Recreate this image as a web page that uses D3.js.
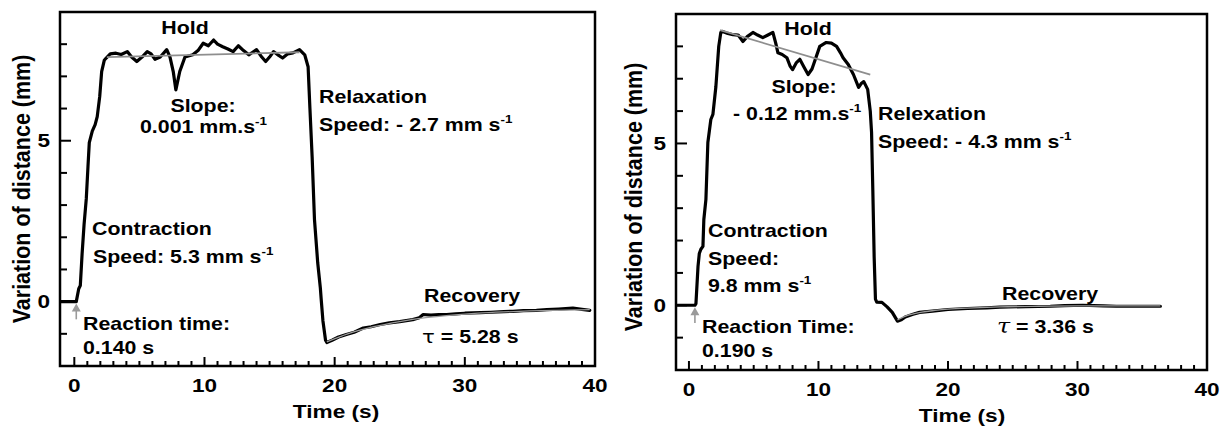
<!DOCTYPE html>
<html>
<head>
<meta charset="utf-8">
<script src="https://cdn.jsdelivr.net/npm/d3@7"></script>
<style>
  html, body { margin: 0; padding: 0; background: #fff; }
  svg { display: block; }
</style>
</head>
<body>
<svg id="chart" width="1227" height="426"></svg>
<script>
// trace of the left subject, [time s, distance mm]
var leftTrace = [[-1.05,0],[0.15,0],[0.34,0.4],[0.46,0.5],[0.6,1.5],[0.75,2.4],[0.92,3.2],[1.05,4.2],
  [1.15,4.94],[1.38,5.3],[1.6,5.5],[1.76,5.75],[1.95,6.37],[2.1,7.15],[2.3,7.5],[2.45,7.57],[2.76,7.7],
  [3.2,7.72],[3.6,7.68],[4.07,7.77],[4.4,7.6],[4.8,7.46],[5.2,7.6],[5.6,7.77],[5.9,7.7],[6.2,7.53],
  [6.6,7.6],[7.1,7.83],[7.35,7.6],[7.6,7.15],[7.8,6.58],[8.1,7.15],[8.5,7.6],[9.1,7.67],[9.5,7.8],
  [9.9,8.03],[10.3,7.95],[10.7,8.13],[11.0,8.0],[11.4,7.92],[11.8,7.85],[12.2,7.77],[12.6,7.95],
  [13.0,7.8],[13.4,7.67],[13.7,7.75],[14.0,7.83],[14.4,7.6],[14.7,7.46],[15.0,7.6],[15.3,7.77],
  [15.7,7.65],[16.0,7.57],[16.4,7.7],[16.8,7.73],[17.3,7.83],[17.7,7.67],[17.96,7.3],[18.1,6.0],
  [18.27,4.5],[18.45,2.55],[18.7,1.2],[18.9,0.43],[18.96,0.1],[19.1,-0.6],[19.3,-1.2],[19.4,-1.27],
  [19.8,-1.2],[20.3,-1.1],[20.9,-1.02],[21.5,-0.95],[22.2,-0.82],[22.8,-0.78],[23.5,-0.71],[24.2,-0.66],
  [25.0,-0.62],[26.0,-0.56],[26.5,-0.5],[26.8,-0.4],[27.4,-0.42],[28.0,-0.4],[28.6,-0.4],[29.3,-0.38],
  [30.0,-0.36],[31.2,-0.34],[32.0,-0.33],[33.0,-0.31],[33.7,-0.3],[34.5,-0.28],[35.5,-0.27],[36.3,-0.25],
  [37.2,-0.23],[38.3,-0.2],[39.0,-0.24],[39.6,-0.27]];
var leftHoldFit = [[2.5,7.6],[17.3,7.75]];
var leftRecoveryFit = [[19.4,-1.25],[21,-1.0],[23,-0.78],[25,-0.62],[27,-0.5],[29,-0.42],[31,-0.36],
  [33,-0.32],[35,-0.29],[37,-0.27],[39.6,-0.25]];

// trace of the right subject
var rightTrace = [[-0.9,0],[0.46,0],[0.54,0.05],[0.7,1.2],[0.8,1.6],[0.92,1.73],[1.08,1.82],[1.15,2.65],
  [1.31,3.27],[1.46,5.03],[1.69,5.74],[1.85,5.9],[2.08,6.76],[2.3,8.0],[2.46,8.43],[2.6,8.46],[3.0,8.4],
  [3.4,8.36],[3.8,8.35],[4.17,8.15],[4.5,8.3],[4.94,8.43],[5.3,8.35],[5.7,8.27],[6.1,8.35],[6.48,8.43],
  [6.7,8.1],[6.87,7.8],[7.2,7.75],[7.56,7.65],[7.8,7.4],[8.0,7.28],[8.3,7.5],[8.56,7.6],[8.9,7.35],
  [9.2,7.13],[9.5,7.3],[9.7,7.53],[10.1,8.0],[10.6,8.12],[11.0,8.1],[11.4,8.0],[11.7,7.8],[11.9,7.65],
  [12.3,7.44],[12.7,7.13],[13.1,6.73],[13.3,6.85],[13.5,6.91],[13.8,6.67],[14.0,6.0],[14.1,5.34],
  [14.2,3.5],[14.3,1.5],[14.4,0.19],[14.5,0.1],[14.9,0.09],[15.3,-0.05],[15.7,-0.22],[16.1,-0.49],
  [16.4,-0.45],[16.7,-0.36],[17.3,-0.28],[17.8,-0.22],[18.8,-0.18],[20,-0.13],[21.5,-0.1],[23,-0.08],
  [24,-0.06],[26,-0.04],[27.9,-0.03],[29,-0.01],[30.4,0.0],[32,-0.02],[33,-0.03],[35,-0.03],[36.4,-0.03]];
var rightHoldFit = [[2.4,8.5],[14.0,7.13]];
var rightRecoveryFit = [[16.1,-0.45],[17,-0.3],[18,-0.21],[19,-0.16],[20,-0.12],[22,-0.08],[24,-0.05],
  [27,-0.03],[30,-0.02],[33,-0.02],[36.4,-0.02]];

// reaction arrows: [time, from, to]
var leftArrow = [0.15, -0.55, -0.06];
var rightArrow = [0.46, -0.55, -0.06];

var xTickLabels = [0, 10, 20, 30, 40];
var yTickLabels = [0, 5];

// annotation texts, each line a list of segments
var leftNotes = [
  [['Hold']], [['Slope:']], [['0.001 mm.s'], ['-1', 'sup']],
  [['Relaxation']], [['Speed: - 2.7 mm s'], ['-1', 'sup']],
  [['Recovery']], [['τ', 'tau'], [' = 5.28 s']],
  [['Contraction']], [['Speed: 5.3 mm s'], ['-1', 'sup']],
  [['Reaction time:']], [['0.140 s']]
];
var rightNotes = [
  [['Hold']], [['Slope:']], [['- 0.12 mm.s'], ['-1', 'sup']],
  [['Relexation']], [['Speed: - 4.3 mm s'], ['-1', 'sup']],
  [['Recovery']], [['τ', 'tauSerif'], [' = 3.36 s']],
  [['Contraction']], [['Speed:']], [['9.8 mm s'], ['-1', 'sup']],
  [['Reaction Time:']], [['0.190 s']]
];

// where the notes sit, px from the frame's top-left corner
var leftNotePos = [[125,22,'middle'],[143,100,'middle'],[80,121],[259,91],[259,119],[364,290],[362,331],
  [32,223],[33,251],[23,318],[23,342]];
var rightNotePos = [[132,21,'middle'],[128,79,'middle'],[57,106],[202,106],[202,134],[326,286],[321,319],
  [32,223],[32,251],[32,278],[26,319],[26,343]];

var SX = 1.22; // the figure is a bit wider than tall fonts
var FONT = '"Liberation Sans", Arial, Helvetica, sans-serif';

var svg = d3.select('#chart');

function addText(g, x, y, segs, size, anchor) {
  var t = g.append('text')
    .attr('transform', 'translate(' + x + ',' + y + ') scale(' + SX + ',1)')
    .attr('text-anchor', anchor || 'start')
    .attr('font-family', FONT)
    .attr('font-weight', 'bold')
    .attr('font-size', size)
    .attr('fill', '#000');
  segs.forEach(function(s) {
    var sp = t.append('tspan').text(s[0]);
    if (s[1] === 'sup') {
      sp.attr('font-size', 11).attr('dy', -8);
    } else if (s[1] === 'tau') {
      sp.attr('font-weight', 'normal').attr('font-family', '"DejaVu Sans", sans-serif');
    } else if (s[1] === 'tauSerif') {
      sp.attr('font-weight', 'normal').attr('font-style', 'italic')
        .attr('font-family', '"DejaVu Serif", "Liberation Serif", serif').attr('font-size', size + 2);
    }
  });
  return t;
}

function drawPanel(p) {
  var x = d3.scaleLinear().domain(p.xDomain).range([p.x0, p.x1]);
  var y = d3.scaleLinear().domain([-2, 9]).range([p.y1, p.y0]);
  var g = svg.append('g');

  // tick marks, pointing into the frame
  var xt = d3.range(0, 40, 1);
  g.selectAll('.xt').data(xt).enter().append('line')
    .attr('x1', function(d) { return x(d); }).attr('x2', function(d) { return x(d); })
    .attr('y1', p.y1).attr('y2', function(d) { return p.y1 - (d % 10 === 0 ? 9 : 5); })
    .attr('stroke', '#000').attr('stroke-width', 2);
  var yt = d3.range(-1, 9, 1);
  g.selectAll('.yt').data(yt).enter().append('line')
    .attr('y1', function(d) { return y(d); }).attr('y2', function(d) { return y(d); })
    .attr('x1', p.x0).attr('x2', function(d) { return p.x0 + (d % 5 === 0 ? 11 : 7); })
    .attr('stroke', '#000').attr('stroke-width', 2);

  xTickLabels.forEach(function(v) {
    addText(g, x(v), p.y1 + 26, [[String(v)]], 18.5, 'middle');
  });
  yTickLabels.forEach(function(v) {
    addText(g, p.x0 - 10, y(v) + 6.5, [[String(v)]], 18.5, 'end');
  });

  addText(g, p.titleX, p.y1 + 52, [['Time (s)']], 18.6, 'middle');
  g.append('text')
    .attr('transform', 'translate(' + p.labelX + ',' + p.labelY + ') rotate(-90) scale(1,1.15)')
    .attr('text-anchor', 'middle')
    .attr('dominant-baseline', 'central')
    .attr('font-family', FONT).attr('font-weight', 'bold').attr('font-size', 21.5)
    .text('Variation of distance (mm)');

  var line = d3.line().x(function(d) { return x(d[0]); }).y(function(d) { return y(d[1]); });

  g.append('path').datum(p.trace).attr('d', line)
    .attr('fill', 'none').attr('stroke', '#000').attr('stroke-width', 3.2)
    .attr('stroke-linejoin', 'round').attr('stroke-linecap', 'round');
  g.append('path').datum(p.recoveryFit).attr('d', line.curve(d3.curveMonotoneX))
    .attr('fill', 'none').attr('stroke', '#9a9a9a').attr('stroke-width', 1.3);
  g.append('path').datum(p.holdFit).attr('d', d3.line().x(function(d) { return x(d[0]); }).y(function(d) { return y(d[1]); }))
    .attr('fill', 'none').attr('stroke', '#8e8e8e').attr('stroke-width', 1.8);

  // reaction time arrow
  var ax = x(p.arrow[0]), ay0 = y(p.arrow[1]), ay1 = y(p.arrow[2]);
  g.append('line').attr('x1', ax).attr('x2', ax).attr('y1', ay0).attr('y2', ay1 + 6)
    .attr('stroke', '#9a9a9a').attr('stroke-width', 1.6);
  g.append('path')
    .attr('d', 'M' + ax + ',' + ay1 + 'L' + (ax - 4.5) + ',' + (ay1 + 8) + 'L' + (ax + 4.5) + ',' + (ay1 + 8) + 'Z')
    .attr('fill', '#9a9a9a');

  // frame
  g.append('rect').attr('x', p.x0).attr('y', p.y0)
    .attr('width', p.x1 - p.x0).attr('height', p.y1 - p.y0)
    .attr('fill', 'none').attr('stroke', '#000').attr('stroke-width', 2.5);

  p.notes.forEach(function(n, i) {
    var pos = p.notePos[i];
    addText(g, p.x0 + pos[0], p.y0 + pos[1], n, 17.5, pos[2]);
  });
}

drawPanel({
  x0: 60, x1: 595, y0: 12, y1: 366, xDomain: [-1.1, 40],
  trace: leftTrace, holdFit: leftHoldFit, recoveryFit: leftRecoveryFit, arrow: leftArrow,
  notes: leftNotes, notePos: leftNotePos, titleX: 336, labelX: 21.5, labelY: 189
});
drawPanel({
  x0: 676, x1: 1207, y0: 14, y1: 370, xDomain: [-1.0, 40],
  trace: rightTrace, holdFit: rightHoldFit, recoveryFit: rightRecoveryFit, arrow: rightArrow,
  notes: rightNotes, notePos: rightNotePos, titleX: 962, labelX: 633, labelY: 197
});
</script>
</body>
</html>
